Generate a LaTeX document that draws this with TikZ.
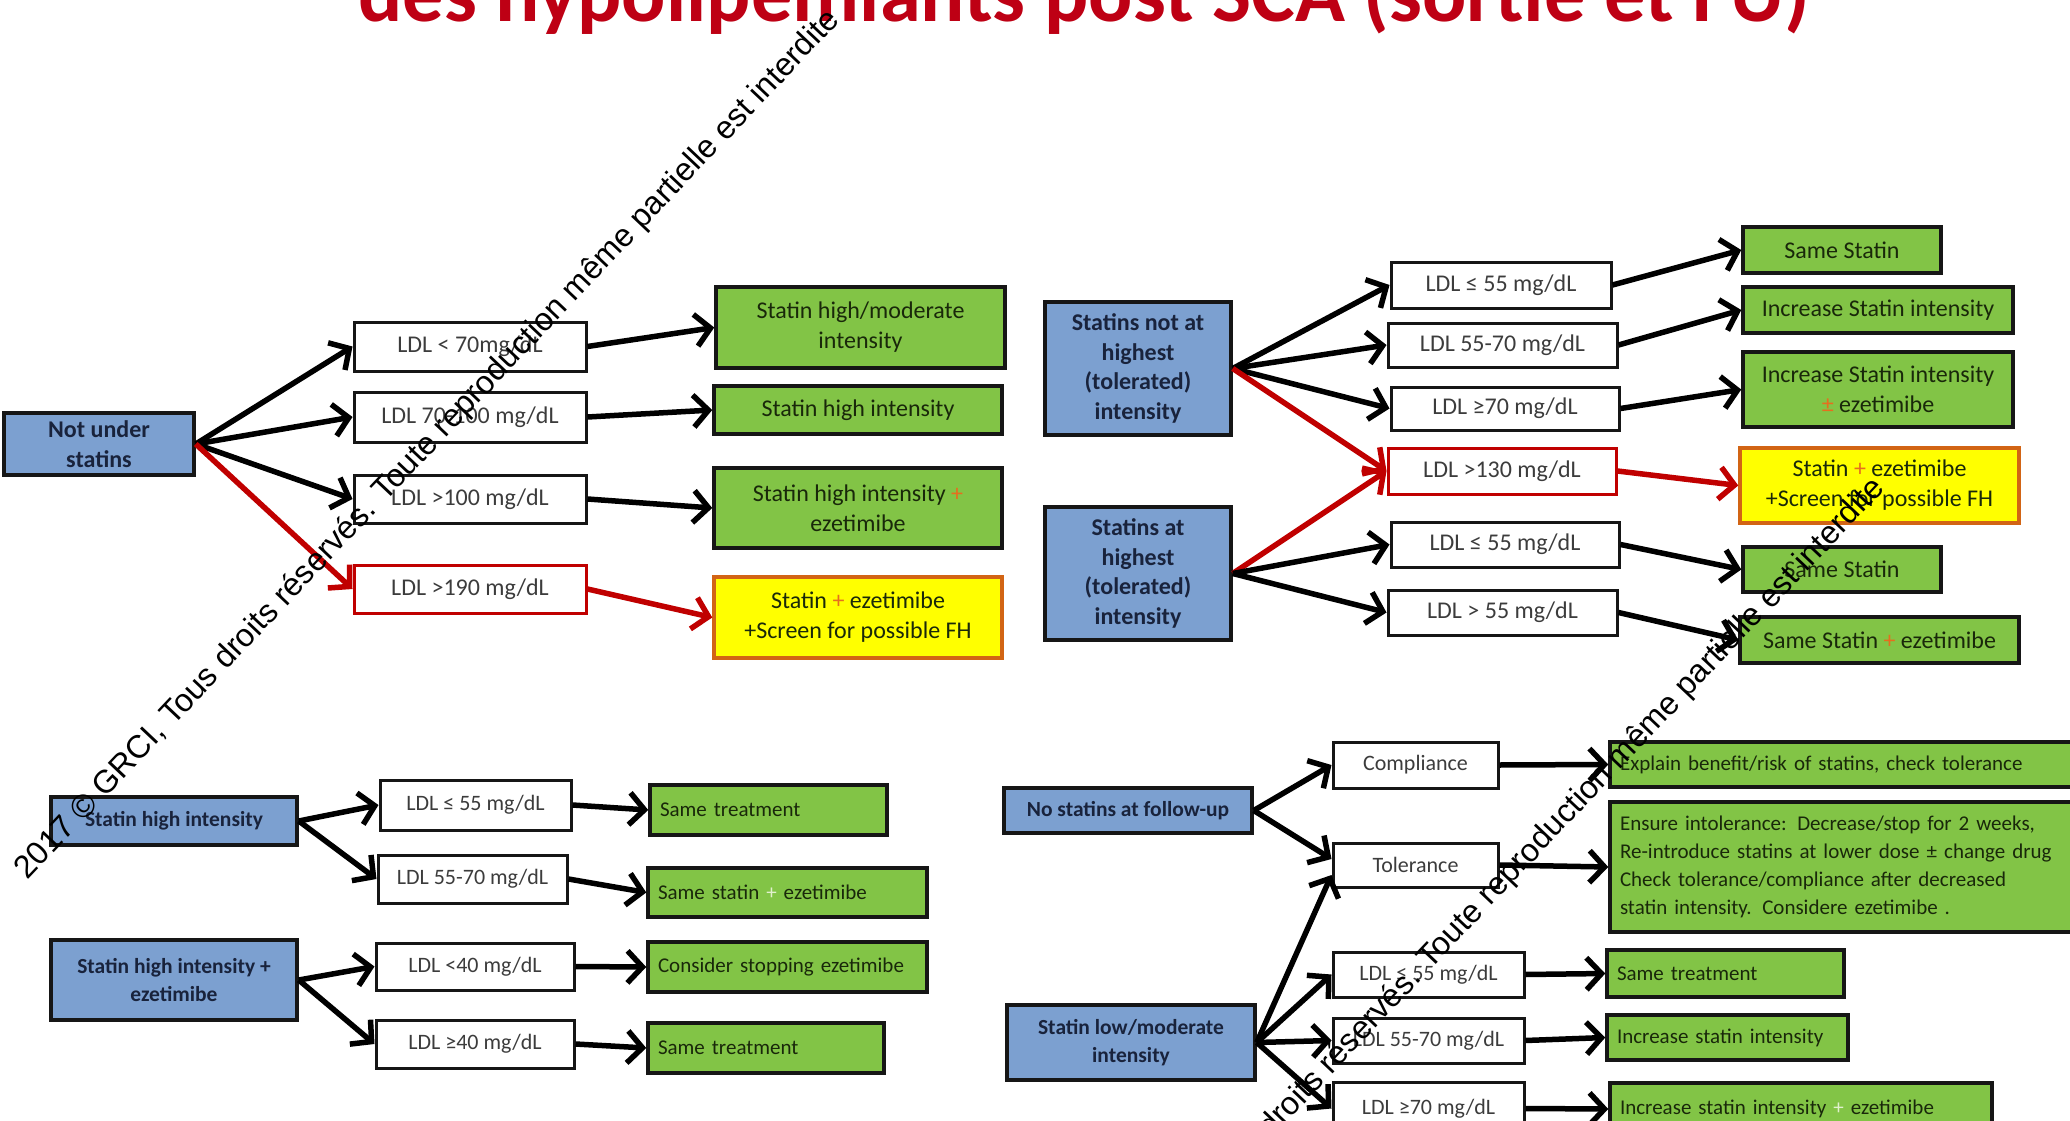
\documentclass[tikz,border=0pt]{standalone}
\usepackage{fontspec}
\setmainfont{Carlito}
\newfontfamily\wmfont{Liberation Sans}
\usepackage{graphicx}
\usetikzlibrary{arrows.meta}
\definecolor{bluefill}{RGB}{124,160,208}
\definecolor{boxline}{RGB}{22,22,22}
\definecolor{greenfill}{RGB}{130,196,70}
\definecolor{yellowfill}{RGB}{255,255,0}
\definecolor{orangeline}{RGB}{210,100,20}
\definecolor{redline}{RGB}{192,0,0}
\definecolor{titlered}{RGB}{190,0,20}
\definecolor{ldltext}{RGB}{60,60,60}
\definecolor{bluetext}{RGB}{25,35,60}
\definecolor{greentext}{RGB}{25,40,10}
\definecolor{plusorange}{RGB}{230,110,30}
\definecolor{pluslight}{RGB}{225,240,205}
\newcommand\bx[7]{\node[#1, minimum width={#4-#2}, minimum height={#5-#3}] (#6) at ({(#2+#4)/2},{(#3+#5)/2}) {#7};}
\newcommand\po{\textcolor{plusorange}{+}}
\tikzset{
  basebox/.style={draw=boxline, line width=3pt, inner sep=0pt, align=center},
  ldlA/.style={basebox, fill=white, text=ldltext, font=\fontsize{24}{30}\selectfont},
  ldlB/.style={basebox, fill=white, text=ldltext, font=\fontsize{22}{28}\selectfont},
  redldl/.style={draw=redline},
  blueA/.style={basebox, fill=bluefill, text=bluetext, line width=3.5pt, font=\bfseries\fontsize{24}{29.5}\selectfont},
  blueB/.style={basebox, fill=bluefill, text=bluetext, line width=3.5pt, font=\bfseries\fontsize{21.5}{28}\selectfont},
  greenA/.style={basebox, fill=greenfill, text=greentext, line width=3.5pt, font=\fontsize{24}{30}\selectfont},
  greenL/.style={basebox, fill=greenfill, text=greentext, line width=3.5pt, align=left, inner xsep=10pt, font=\fontsize{21}{28}\selectfont},
  yellowbox/.style={basebox, fill=yellowfill, draw=orangeline, text=greentext, line width=3.5pt, font=\fontsize{24}{30}\selectfont},
  arr/.style={line width=5.5pt, draw=black, -{Straight Barb[length=15pt,width=32pt]}},
  redarr/.style={arr, draw=redline},
}
\begin{document}
\begin{tikzpicture}[x=1pt,y=-1pt]
\useasboundingbox (0,0) rectangle (2070,1121);
\clip (0,0) rectangle (2070,1121);
\fill[white] (0,0) rectangle (2070,1121);

% title (cut at the top edge)
\node[anchor=base west, inner sep=0pt, text=titlered, font=\bfseries] (title) at (358,22)
  {\resizebox{1451pt}{!}{des hypolipémiants post SCA (sortie et FU)}};

% ---------- top left ----------
\bx{blueA}{4}{413}{194}{475}{NUS}{Not under\\statins}
\bx{ldlA}{354}{322}{586}{371}{L1}{LDL < 70mg/dL}
\bx{ldlA}{354}{392}{586}{442}{L2}{LDL 70-100 mg/dL}
\bx{ldlA}{354}{475}{586}{523}{L3}{LDL >100 mg/dL}
\bx{ldlA,redldl}{354}{565}{586}{613}{L4}{LDL >190 mg/dL}
\bx{greenA}{716}{287}{1005}{368}{G1}{Statin high/moderate\\intensity}
\bx{greenA}{714}{386}{1002}{434}{G2}{Statin high intensity}
\bx{greenA}{714}{468}{1002}{548}{G3}{Statin high intensity \po\\ezetimibe}
\bx{yellowbox}{714}{577}{1002}{658}{Y1}{Statin \po\ ezetimibe\\+Screen for possible FH}

\draw[arr] (NUS.east) -- (L1.west);
\draw[arr] (NUS.east) -- (L2.west);
\draw[arr] (NUS.east) -- (L3.west);
\draw[redarr] (NUS.east) -- (L4.west);
\draw[arr] (L1.east) -- (G1.west);
\draw[arr] (L2.east) -- (G2.west);
\draw[arr] (L3.east) -- (G3.west);
\draw[redarr] (L4.east) -- (Y1.west);

% ---------- top right ----------
\bx{blueA}{1045}{302}{1231}{435}{SN}{Statins not at\\highest\\(tolerated)\\intensity}
\bx{blueA}{1045}{507}{1231}{640}{SA}{Statins at\\highest\\(tolerated)\\intensity}
\bx{ldlA}{1391}{262}{1611}{308}{R1}{LDL ≤ 55 mg/dL}
\bx{ldlA}{1388}{323}{1617}{367}{R2}{LDL 55-70 mg/dL}
\bx{ldlA}{1391}{387}{1619}{430}{R3}{LDL ≥70 mg/dL}
\bx{ldlA,redldl}{1388}{448}{1616}{494}{R4}{LDL >130 mg/dL}
\bx{ldlA}{1391}{522}{1619}{567}{R5}{LDL ≤ 55 mg/dL}
\bx{ldlA}{1388}{590}{1617}{635}{R6}{LDL > 55 mg/dL}
\bx{greenA}{1743}{227}{1941}{273}{T1}{Same Statin}
\bx{greenA}{1743}{287}{2013}{333}{T2}{Increase Statin intensity}
\bx{greenA}{1743}{352}{2013}{427}{T3}{Increase Statin intensity\\\textcolor{plusorange}{±} ezetimibe}
\bx{yellowbox}{1740}{448}{2019}{523}{T4}{Statin \po\ ezetimibe\\+Screen for possible FH}
\bx{greenA}{1743}{547}{1941}{592}{T5}{Same Statin}
\bx{greenA}{1740}{617}{2019}{663}{T6}{Same Statin \po\ ezetimibe}

\draw[arr] (SN.east) -- (R1.west);
\draw[arr] (SN.east) -- (R2.west);
\draw[arr] (SN.east) -- (R3.west);
\draw[redarr] (SN.east) -- (R4.west);
\draw[redarr] (SA.east) -- (R4.west);
\draw[arr] (SA.east) -- (R5.west);
\draw[arr] (SA.east) -- (R6.west);
\draw[arr] (R1.east) -- (T1.west);
\draw[arr] (R2.east) -- (T2.west);
\draw[arr] (R3.east) -- (T3.west);
\draw[redarr] (R4.east) -- (T4.west);
\draw[arr] (R5.east) -- (T5.west);
\draw[arr] (R6.east) -- (T6.west);

% ---------- bottom left ----------
\bx{blueB}{51}{797}{297}{845}{B1}{Statin high intensity}
\bx{blueB}{51}{940}{297}{1020}{B2}{Statin high intensity +\\ezetimibe}
\bx{ldlB}{380}{780}{571}{830}{BL1}{LDL ≤ 55 mg/dL}
\bx{ldlB}{378}{855}{567}{903}{BL2}{LDL 55-70 mg/dL}
\bx{ldlB}{376}{943}{574}{990}{BL3}{LDL <40 mg/dL}
\bx{ldlB}{376}{1020}{574}{1068}{BL4}{LDL ≥40 mg/dL}
\bx{greenL,text width=217pt}{650}{785}{887}{835}{BG1}{Same treatment}
\bx{greenL,text width=259pt}{648}{868}{927}{917}{BG2}{Same statin \textcolor{pluslight}{+} ezetimibe}
\bx{greenL,text width=259pt}{648}{942}{927}{992}{BG3}{Consider stopping ezetimibe}
\bx{greenL,text width=216pt}{648}{1023}{884}{1073}{BG4}{Same treatment}

\draw[arr] (B1.east) -- (BL1.west);
\draw[arr] (B1.east) -- (BL2.west);
\draw[arr] (B2.east) -- (BL3.west);
\draw[arr] (B2.east) -- (BL4.west);
\draw[arr] (BL1.east) -- (BG1.west);
\draw[arr] (BL2.east) -- (BG2.west);
\draw[arr] (BL3.east) -- (BG3.west);
\draw[arr] (BL4.east) -- (BG4.west);

% ---------- bottom right ----------
\bx{blueB}{1004}{788}{1252}{833}{NS}{No statins at follow-up}
\bx{blueB}{1007}{1005}{1255}{1080}{SL}{Statin low/moderate\\intensity}
\bx{ldlB}{1333}{742}{1498}{788}{C1}{Compliance}
\bx{ldlB}{1333}{843}{1498}{887}{C2}{Tolerance}
\bx{ldlB}{1333}{952}{1524}{997}{C3}{LDL ≤ 55 mg/dL}
\bx{ldlB}{1333}{1018}{1524}{1063}{C4}{LDL 55-70 mg/dL}
\bx{ldlB}{1333}{1082}{1524}{1135}{C5}{LDL ≥70 mg/dL}
\bx{greenL,text width=455pt}{1610}{742}{2085}{787}{E1}{Explain benefit/risk of statins, check tolerance}
\bx{greenL,text width=455pt}{1610}{802}{2085}{932}{E2}{Ensure intolerance: Decrease/stop for 2 weeks,\\Re-introduce statins at lower dose ± change drug\\Check tolerance/compliance after decreased\\statin intensity. Considere ezetimibe .}
\bx{greenL,text width=217pt}{1607}{950}{1844}{997}{E3}{Same treatment}
\bx{greenL,text width=221pt}{1607}{1015}{1848}{1060}{E4}{Increase statin intensity}
\bx{greenL,text width=362pt}{1610}{1083}{1992}{1135}{E5}{Increase statin intensity \textcolor{pluslight}{+} ezetimibe}

\draw[arr] (NS.east) -- (C1.west);
\draw[arr] (NS.east) -- ([yshift=6pt]C2.west);
\draw[arr] (SL.east) -- ([yshift=-10pt]C2.west);
\draw[arr] (SL.east) -- (C3.west);
\draw[arr] (SL.east) -- (C4.west);
\draw[arr] (SL.east) -- (C5.west);
\draw[arr] (C1.east) -- (E1.west);
\draw[arr] (C2.east) -- (E2.west);
\draw[arr] (C3.east) -- (E3.west);
\draw[arr] (C4.east) -- (E4.west);
\draw[arr] (C5.east) -- (E5.west);

% ---------- watermark ----------
\node[rotate=46.6, inner sep=0pt] (wm1) at (428,445)
  {\resizebox{1183pt}{!}{\wmfont 2017 © GRCI, Tous droits réservés. Toute reproduction même partielle est interdite}};
\node[rotate=46.6, inner sep=0pt] (wm2) at (1473,913)
  {\resizebox{1183pt}{!}{\wmfont 2017 © GRCI, Tous droits réservés. Toute reproduction même partielle est interdite}};
\end{tikzpicture}
\end{document}
